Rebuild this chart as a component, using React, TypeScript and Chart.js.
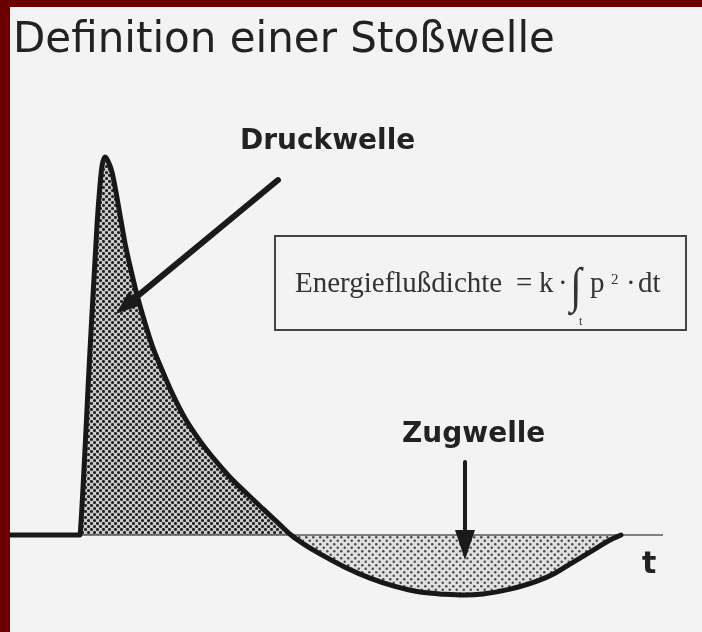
import React, { useEffect, useRef } from "react";
import { Chart, registerables } from "chart.js";

Chart.register(...registerables);

// time in ms (t = 0 at shock arrival), pressure in % of peak overpressure
const timeMs = [
  -1.4, 0, 0.01, 0.2, 0.34, 0.4, 0.44, 0.5, 0.56, 0.64, 0.72, 0.8, 0.9, 1.0, 1.14, 1.3, 1.46, 1.64, 1.84, 2.1, 2.4,
  2.7, 3.0, 3.34, 3.66, 3.96, 4.22, 4.5, 4.8, 5.3, 5.8, 6.3, 6.8, 7.3, 7.7, 8.06, 8.6, 9.14, 9.5, 9.8, 10.1, 10.34,
  10.6, 10.82,
];
const pressure = [
  0, 0, 1.3, 48.9, 82.0, 92.6, 97.6, 100, 98.9, 96.0, 90.7, 84.7, 77.2, 71.2, 63.5, 56.1, 49.5, 43.7, 37.6, 30.9,
  24.9, 19.8, 15.3, 10.9, 6.9, 3.2, 0, -2.6, -5.0, -8.5, -11.4, -13.6, -15.1, -15.7, -15.9, -15.6, -14.3, -12.2,
  -10.1, -7.7, -5.3, -3.4, -1.3, 0,
];
const axisT = [0, 11.66];
const axisP = [0, 0];

const TITLE = "Definition einer Stoßwelle";
const LABEL_PRESSURE = "Druckwelle";
const LABEL_TENSION = "Zugwelle";
const AXIS_LABEL = "t";
const FORMULA_LEFT = "Energieflußdichte";

function makePattern(size: number, bg: string, dot: string, r: number) {
  const c = document.createElement("canvas");
  c.width = size;
  c.height = size;
  const g = c.getContext("2d")!;
  g.fillStyle = bg;
  g.fillRect(0, 0, size, size);
  g.fillStyle = dot;
  const h = size / 2;
  const pts = [
    [h / 2, h / 2],
    [h / 2 + h, h / 2 + h],
  ];
  for (const [px, py] of pts) {
    g.beginPath();
    g.arc(px, py, r, 0, Math.PI * 2);
    g.fill();
  }
  return g.createPattern(c, "repeat")!;
}

function arrow(ctx: CanvasRenderingContext2D, x0: number, y0: number, x1: number, y1: number, w: number, hl: number, hw: number) {
  const dx = x1 - x0, dy = y1 - y0;
  const L = Math.hypot(dx, dy);
  const ux = dx / L, uy = dy / L;
  const bx = x1 - ux * hl, by = y1 - uy * hl;
  ctx.lineWidth = w;
  ctx.lineCap = "round";
  ctx.beginPath();
  ctx.moveTo(x0, y0);
  ctx.lineTo(bx + ux * 2, by + uy * 2);
  ctx.stroke();
  ctx.beginPath();
  ctx.moveTo(x1, y1);
  ctx.lineTo(bx - uy * hw, by + ux * hw);
  ctx.lineTo(bx + uy * hw, by - ux * hw);
  ctx.closePath();
  ctx.fill();
}

const annotPlugin = {
  id: "annot",
  beforeDraw(chart: any) {
    const { ctx, width, height } = chart;
    ctx.save();
    ctx.fillStyle = "#6c0000";
    ctx.fillRect(0, 0, width, height);
    ctx.fillStyle = "#f3f3f3";
    ctx.fillRect(10, 7, width - 10, height - 7);
    ctx.restore();
  },
  afterDraw(chart: any) {
    const { ctx } = chart;
    const xs = chart.scales.x, ys = chart.scales.y;
    const X = (t: number) => xs.getPixelForValue(t);
    const Y = (p: number) => ys.getPixelForValue(p);
    ctx.save();
    ctx.textBaseline = "alphabetic";
    ctx.textAlign = "left";
    // title
    ctx.fillStyle = "#222";
    ctx.font = '42px "DejaVu Sans"';
    ctx.fillText(TITLE, 13, 52);
    // labels
    ctx.fillStyle = "#222";
    ctx.font = 'bold 28px "DejaVu Sans"';
    ctx.fillText(LABEL_PRESSURE, 240, 149);
    ctx.fillText(LABEL_TENSION, 402, 442);
    ctx.font = 'bold 30px "DejaVu Sans"';
    ctx.fillText(AXIS_LABEL, 642, 573);
    // arrows
    ctx.strokeStyle = "#1a1a1a";
    ctx.fillStyle = "#1a1a1a";
    arrow(ctx, X(3.96), Y(93.9), X(0.72), Y(58.5), 6, 24, 9);
    arrow(ctx, X(7.7), Y(19.3), X(7.7), Y(-6.6), 4, 30, 10);
    // formula box
    ctx.strokeStyle = "#444";
    ctx.lineWidth = 2;
    ctx.strokeRect(275, 236, 411, 94);
    ctx.fillStyle = "#333";
    ctx.font = '29px "Liberation Serif"';
    ctx.fillText(FORMULA_LEFT, 295, 292);
    ctx.fillText("=", 516, 292);
    ctx.fillText("k", 539, 292);
    ctx.fillText("·", 558, 292);
    ctx.fillText("p", 590, 292);
    ctx.fillText("·", 626, 292);
    ctx.fillText("dt", 638, 292);
    ctx.font = '15px "Liberation Serif"';
    ctx.fillText("2", 611, 284);
    ctx.font = '12px "Liberation Serif"';
    ctx.fillText("t", 579, 325);
    // integral sign
    ctx.save();
    ctx.translate(570, 302);
    ctx.scale(1.1, 1.3);
    ctx.font = '38px "Liberation Serif"';
    ctx.fillText("∫", 0, 0);
    ctx.restore();
    ctx.restore();
  },
};

export default function App() {
  const ref = useRef<HTMLCanvasElement | null>(null);
  useEffect(() => {
    const canvas = ref.current!;
    const posPattern = makePattern(6, "#cbcbcb", "#222222", 1.55);
    const negPattern = makePattern(7, "#e0e0e0", "#4a4a4a", 1.25);
    const chart = new Chart(canvas, {
      type: "line",
      data: {
        datasets: [
          {
            label: "Druckverlauf",
            data: timeMs.map((t, i) => ({ x: t, y: pressure[i] })),
            borderColor: "#181818",
            borderWidth: 5,
            pointRadius: 0,
            cubicInterpolationMode: "monotone",
            borderJoinStyle: "round",
            borderCapStyle: "round",
            fill: { target: "origin", above: posPattern, below: negPattern },
            order: 0,
          } as any,
          {
            label: "t-Achse",
            data: axisT.map((t, i) => ({ x: t, y: axisP[i] })),
            borderColor: "#5a5a5a",
            borderWidth: 1.5,
            pointRadius: 0,
            fill: false,
            order: 1,
          },
        ],
      },
      options: {
        animation: false,
        responsive: false,
        devicePixelRatio: 1,
        layout: { padding: { left: 10, top: 7, right: 0, bottom: 0 } },
        scales: {
          x: { type: "linear", min: -1.4, max: 12.44, display: false },
          y: { type: "linear", min: -25.66, max: 139.68, display: false },
        },
        plugins: {
          legend: { display: false },
          tooltip: { enabled: false },
          filler: { drawTime: "beforeDatasetsDraw" } as any,
        },
      },
      plugins: [annotPlugin],
    });
    return () => chart.destroy();
  }, []);
  return (
    <div style={{ position: "absolute", left: 0, top: 0, width: 702, height: 632 }}>
      <canvas ref={ref} width={702} height={632} style={{ display: "block", width: 702, height: 632 }} />
    </div>
  );
}
